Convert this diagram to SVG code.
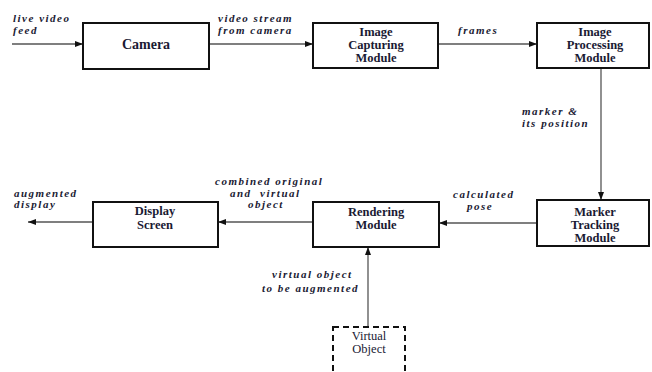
<svg xmlns="http://www.w3.org/2000/svg" width="652" height="372" viewBox="0 0 652 372">
  <defs>
    <marker id="arrow" viewBox="0 0 8 6" refX="8" refY="3" markerWidth="8" markerHeight="6" markerUnits="userSpaceOnUse" orient="auto">
      <path d="M0,0 L8,3 L0,6 Z" fill="#111"/>
    </marker>
    <style>
      .box { fill: #fff; stroke: #111; stroke-width: 2; }
      .dash { fill: #fff; stroke: #111; stroke-width: 2; stroke-dasharray: 6 4; }
      text { font-family: 'Liberation Serif', 'DejaVu Serif', serif; fill: #1a1a33; }
      .node { font-weight: bold; font-size: 12.5px; text-anchor: middle; }
      .plain { font-size: 12.5px; text-anchor: middle; }
      .lbl { font-style: italic; font-weight: bold; font-size: 11px; letter-spacing: 1.5px; }
      .wire { fill: none; stroke: #555; stroke-width: 1.3; marker-end: url(#arrow); }
    </style>
  </defs>

  <rect width="652" height="372" fill="#fff"/>

  <!-- connectors -->
  <g id="connectors">
    <line class="wire" x1="12" y1="44" x2="83" y2="44"/>
    <line class="wire" x1="209" y1="44" x2="313" y2="44"/>
    <line class="wire" x1="438" y1="44" x2="537" y2="44"/>
    <line class="wire" x1="601" y1="68" x2="601" y2="200"/>
    <line class="wire" x1="537" y1="223" x2="439" y2="223"/>
    <line class="wire" x1="313" y1="222" x2="218" y2="222"/>
    <line class="wire" x1="93" y1="222" x2="28" y2="222"/>
    <line class="wire" x1="368" y1="327" x2="368" y2="247"/>
  </g>

  <!-- connector labels -->
  <g id="labels">
    <text class="lbl" x="13" y="22">live video</text>
    <text class="lbl" x="13" y="34">feed</text>
    <text class="lbl" x="218" y="22">video stream</text>
    <text class="lbl" x="218" y="34">from camera</text>
    <text class="lbl" x="458" y="34">frames</text>
    <text class="lbl" x="522" y="115">marker &amp;</text>
    <text class="lbl" x="522" y="127">its position</text>
    <text class="lbl" x="453" y="198">calculated</text>
    <text class="lbl" x="467" y="210">pose</text>
    <text class="lbl" x="215" y="185">combined original</text>
    <text class="lbl" x="230" y="197" xml:space="preserve">and  virtual</text>
    <text class="lbl" x="248" y="208">object</text>
    <text class="lbl" x="14" y="197">augmented</text>
    <text class="lbl" x="14" y="208">display</text>
    <text class="lbl" x="272" y="278">virtual object</text>
    <text class="lbl" x="262" y="292">to be augmented</text>
  </g>

  <g id="camera">
    <rect class="box" x="83" y="23" width="126" height="46"/>
    <text class="node" x="146" y="49" style="font-size:14px">Camera</text>
  </g>

  <g id="image-capturing">
    <rect class="box" x="313" y="23" width="125" height="45"/>
    <text class="node" x="376" y="36">Image</text>
    <text class="node" x="376" y="49">Capturing</text>
    <text class="node" x="376" y="62">Module</text>
  </g>

  <g id="image-processing">
    <rect class="box" x="537" y="23" width="112" height="45"/>
    <text class="node" x="595" y="36">Image</text>
    <text class="node" x="595" y="49">Processing</text>
    <text class="node" x="595" y="62">Module</text>
  </g>

  <g id="marker-tracking">
    <rect class="box" x="537" y="200" width="112" height="46"/>
    <text class="node" x="595" y="216">Marker</text>
    <text class="node" x="595" y="229">Tracking</text>
    <text class="node" x="595" y="242">Module</text>
  </g>

  <g id="rendering">
    <rect class="box" x="313" y="202" width="126" height="45"/>
    <text class="node" x="376" y="216">Rendering</text>
    <text class="node" x="376" y="229">Module</text>
  </g>

  <g id="display-screen">
    <rect class="box" x="93" y="202" width="125" height="45"/>
    <text class="node" x="155" y="215">Display</text>
    <text class="node" x="155" y="229">Screen</text>
  </g>

  <g id="virtual-object">
    <rect class="dash" x="333" y="327" width="72" height="60"/>
    <text class="plain" x="369" y="340">Virtual</text>
    <text class="plain" x="369" y="353">Object</text>
  </g>
</svg>
